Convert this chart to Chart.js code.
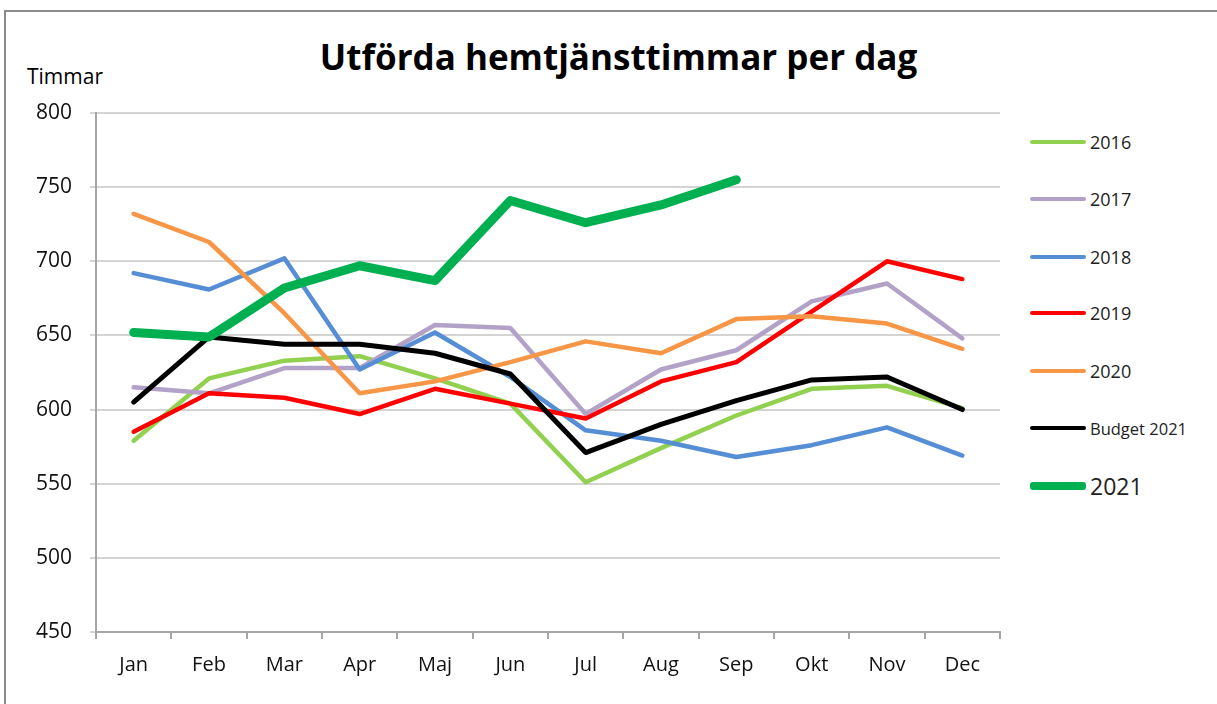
<!DOCTYPE html>
<html>
<head>
<meta charset="utf-8">
<script src="https://cdn.jsdelivr.net/npm/chart.js@4"></script>
<style>
  body { margin: 0; background: #fff; font-family: "Open Sans", sans-serif; }
  #wrap { position: relative; width: 1217px; height: 704px; overflow: hidden; }
  #ram { position: absolute; left: 4px; top: 10px; width: 1300px; height: 800px; border-top: 2px solid #8c8c8c; border-left: 2px solid #8c8c8c; }
  #titel { position: absolute; left: 0; width: 1237px; top: 33px; text-align: center; font-weight: bold; font-size: 35px; color: #000; }
  #enhet { position: absolute; left: 27px; top: 62px; font-size: 21px; color: #000; }
  .rad { position: absolute; left: 1030px; height: 24px; display: flex; align-items: center; }
  .rad span.linje { display: inline-block; width: 56px; border-radius: 3px; margin-right: 4px; }
  .rad span.txt { color: #222; }
  canvas { position: absolute; left: 0; top: 0; }
</style>
</head>
<body>
<div id="wrap">
  <div id="ram"></div>
  <div id="titel">Utförda hemtjänsttimmar per dag</div>
  <div id="enhet">Timmar</div>
  <div id="legend"></div>
  <canvas id="graf" width="1217" height="704"></canvas>
</div>
<script>
  // Månader och värden
  const manader = ['Jan', 'Feb', 'Mar', 'Apr', 'Maj', 'Jun', 'Jul', 'Aug', 'Sep', 'Okt', 'Nov', 'Dec'];
  const ar2016 = [579, 621, 633, 636, 621, 604, 551, 574, 596, 614, 616, 601];
  const ar2017 = [615, 611, 628, 628, 657, 655, 597, 627, 640, 673, 685, 648];
  const ar2018 = [692, 681, 702, 627, 652, 622, 586, 579, 568, 576, 588, 569];
  const ar2019 = [585, 611, 608, 597, 614, 604, 594, 619, 632, 666, 700, 688];
  const ar2020 = [732, 713, 665, 611, 619, 632, 646, 638, 661, 663, 658, 641];
  const budget2021 = [605, 649, 644, 644, 638, 624, 571, 590, 606, 620, 622, 600];
  const ar2021 = [652, 649, 682, 697, 687, 741, 726, 738, 755];

  const serier = [
    { namn: '2016', data: ar2016, farg: '#92D050', bredd: 4.5, y: 142, fs: 18 },
    { namn: '2017', data: ar2017, farg: '#B3A2C7', bredd: 4.5, y: 199, fs: 18 },
    { namn: '2018', data: ar2018, farg: '#558ED5', bredd: 4.5, y: 257, fs: 18 },
    { namn: '2019', data: ar2019, farg: '#FF0000', bredd: 4.5, y: 313, fs: 18 },
    { namn: '2020', data: ar2020, farg: '#F79646', bredd: 4.5, y: 371, fs: 18 },
    { namn: 'Budget 2021', data: budget2021, farg: '#000000', bredd: 5, y: 428, fs: 16.5 },
    { namn: '2021', data: ar2021, farg: '#00B050', bredd: 9, y: 486, fs: 23 }
  ];

  // Egen legend till höger
  const legend = document.getElementById('legend');
  serier.forEach(s => {
    const rad = document.createElement('div');
    rad.className = 'rad';
    rad.style.top = (s.y - 12) + 'px';
    rad.innerHTML = '<span class="linje" style="height:' + Math.max(4, s.bredd - 1) + 'px;background:' + s.farg + '"></span>' +
      '<span class="txt" style="font-size:' + s.fs + 'px">' + s.namn + '</span>';
    legend.appendChild(rad);
  });

  Chart.defaults.font.family = '"Open Sans", sans-serif';
  Chart.defaults.color = '#000';

  const ctx = document.getElementById('graf').getContext('2d');
  new Chart(ctx, {
    type: 'line',
    data: {
      labels: manader,
      datasets: serier.map((s, i) => ({
        label: s.namn,
        data: s.data,
        borderColor: s.farg,
        backgroundColor: s.farg,
        borderWidth: s.bredd,
        pointRadius: 0,
        pointHoverRadius: 0,
        tension: 0,
        borderCapStyle: 'round',
        borderJoinStyle: 'round',
        order: serier.length - i
      }))
    },
    options: {
      responsive: false,
      animation: false,
      layout: { padding: { left: 6, right: 217, top: 113, bottom: 22 } },
      plugins: {
        legend: { display: false },
        tooltip: { enabled: false }
      },
      scales: {
        y: {
          min: 450,
          max: 800,
          afterFit: (scale) => { scale.width = 90; },
          ticks: { stepSize: 50, padding: 18, font: { size: 21 }, color: '#111' },
          grid: { color: '#d4d4d4', lineWidth: 2, tickLength: 6 },
          border: { color: '#a6a6a6', width: 2 }
        },
        x: {
          offset: true,
          afterFit: (scale) => { scale.height = 50; },
          ticks: { padding: 14, font: { size: 20 }, color: '#111', maxRotation: 0 },
          grid: { offset: true, drawOnChartArea: false, color: '#a6a6a6', lineWidth: 2, tickLength: 7 },
          border: { color: '#a6a6a6', width: 2 }
        }
      }
    }
  });
</script>
</body>
</html>
